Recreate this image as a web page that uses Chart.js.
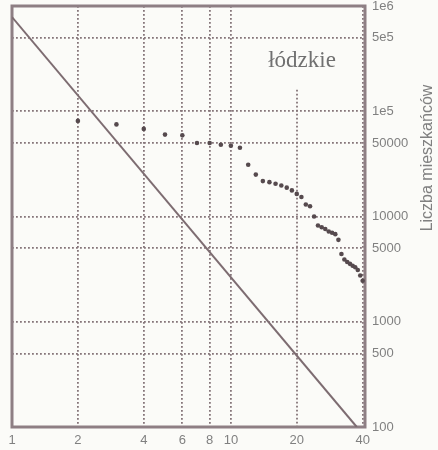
<!DOCTYPE html>
<html>
<head>
<meta charset="utf-8">
<script src="https://cdn.jsdelivr.net/npm/chart.js@4/dist/chart.umd.min.js"></script>
<style>
  html, body { margin: 0; padding: 0; background: #fbfbf8; }
  canvas { display: block; }
</style>
</head>
<body>
<canvas id="zipf" width="438" height="450"></canvas>
<script>
// rank of town in the voivodeship vs. number of inhabitants
const ranks = [2, 3, 4, 5, 6, 7, 8, 9, 10, 11, 12, 13, 14, 15, 16, 17, 18, 19, 20, 21,
               22, 23, 24, 25, 26, 27, 28, 29, 30, 31, 32, 33, 34, 35, 36, 37, 38, 39, 40];
const population = [81000, 75000, 68000, 60000, 59000, 50000, 50000, 48000, 47000, 45000,
                    31000, 25000, 21700, 21200, 20500, 19700, 18800, 17700, 16400, 15300,
                    13000, 12500, 10000, 8200, 7900, 7600, 7200, 7000, 6800, 6000,
                    4400, 3900, 3700, 3550, 3400, 3300, 3100, 2750, 2450];

// reference power-law line (two end points)
const lineX = [1, 37.6];
const lineY = [785000, 100];

const xTicks = [1, 2, 4, 6, 8, 10, 20, 40];
const yTicks = [1e6, 5e5, 1e5, 5e4, 1e4, 5000, 1000, 500, 100];
const yTickLabels = ['1e6', '5e5', '1e5', '50000', '10000', '5000', '1000', '500', '100'];

const titleText = 'łódzkie';
const yTitle = 'Liczba mieszkańców';

const frameColor = '#8e7f84';
const gridColor = '#857579';
const labelColor = '#808080';
const gridDash = [1.8, 2.2];

const framePlugin = {
    id: 'frame',
    beforeDatasetsDraw(chart) {
        const ctx = chart.ctx;
        const a = chart.chartArea;
        const xs = chart.scales.x, ys = chart.scales.y;
        ctx.save();
        // gridline at 20 only below the title
        ctx.strokeStyle = gridColor;
        ctx.lineWidth = 1.8;
        ctx.setLineDash(gridDash);
        const gx = Math.round(xs.getPixelForValue(20));
        ctx.beginPath();
        ctx.moveTo(gx, ys.getPixelForValue(160000));
        ctx.lineTo(gx, a.bottom);
        ctx.stroke();
        ctx.setLineDash([]);
        // frame
        ctx.strokeStyle = frameColor;
        ctx.lineWidth = 3;
        ctx.strokeRect(a.left, a.top, a.right - a.left, a.bottom - a.top);
        // title inside plot
        ctx.fillStyle = '#707070';
        ctx.font = '23px "Liberation Serif", "Times New Roman", serif';
        ctx.textAlign = 'center';
        ctx.textBaseline = 'alphabetic';
        ctx.fillText(titleText, 302, 67);
        ctx.restore();
    },
    afterDraw(chart) {
        const ctx = chart.ctx;
        ctx.save();
        ctx.translate(428, 158);
        ctx.rotate(-Math.PI / 2);
        ctx.fillStyle = labelColor;
        ctx.font = '16px "Liberation Sans", Arial, sans-serif';
        ctx.textAlign = 'center';
        ctx.textBaseline = 'middle';
        ctx.fillText(yTitle, 0, 0);
        ctx.restore();
    }
};

document.addEventListener('DOMContentLoaded', function() {
    const ctx = document.getElementById('zipf').getContext('2d');

    new Chart(ctx, {
        type: 'scatter',
        data: {
            datasets: [{
                label: 'miasta',
                data: ranks.map((r, i) => ({ x: r, y: population[i] })),
                backgroundColor: '#564a4e',
                borderWidth: 0,
                pointRadius: 2.3,
                order: 1
            }, {
                label: 'prosta',
                data: lineX.map((x, i) => ({ x: x, y: lineY[i] })),
                showLine: true,
                borderColor: '#7d6c71',
                borderWidth: 2,
                pointRadius: 0,
                order: 2
            }]
        },
        options: {
            responsive: false,
            animation: false,
            devicePixelRatio: 1,
            layout: {
                padding: { left: 12, top: 6, right: 0, bottom: 0 }
            },
            plugins: {
                legend: { display: false },
                tooltip: { enabled: false }
            },
            scales: {
                x: {
                    type: 'logarithmic',
                    position: 'bottom',
                    min: 1,
                    max: 41,
                    afterBuildTicks: axis => { axis.ticks = xTicks.map(v => ({ value: v })); },
                    afterFit: axis => {
                        axis.height = 23;
                        axis.paddingLeft = 0;
                        axis.paddingRight = 0;
                    },
                    ticks: {
                        autoSkip: false,
                        maxRotation: 0,
                        padding: 6,
                        color: labelColor,
                        font: { family: '"Liberation Sans", Arial, sans-serif', size: 13 },
                        callback: v => String(v)
                    },
                    grid: {
                        drawTicks: false,
                        lineWidth: 1.8,
                        color: c => (c.tick && (c.tick.value === 1 || c.tick.value === 20)) ? 'rgba(0,0,0,0)' : gridColor
                    },
                    border: { display: false, dash: gridDash }
                },
                y: {
                    type: 'logarithmic',
                    position: 'right',
                    min: 100,
                    max: 1e6,
                    afterBuildTicks: axis => { axis.ticks = yTicks.map(v => ({ value: v })); },
                    afterFit: axis => {
                        axis.width = 73;
                        axis.paddingTop = 0;
                        axis.paddingBottom = 0;
                    },
                    ticks: {
                        autoSkip: false,
                        padding: 7,
                        color: labelColor,
                        font: { family: '"Liberation Sans", Arial, sans-serif', size: 13 },
                        callback: v => yTickLabels[yTicks.indexOf(v)]
                    },
                    grid: {
                        drawTicks: false,
                        lineWidth: 1.8,
                        color: c => (c.tick && (c.tick.value === 1e6 || c.tick.value === 100)) ? 'rgba(0,0,0,0)' : gridColor
                    },
                    border: { display: false, dash: gridDash }
                }
            }
        },
        plugins: [framePlugin]
    });
});
</script>
</body>
</html>
